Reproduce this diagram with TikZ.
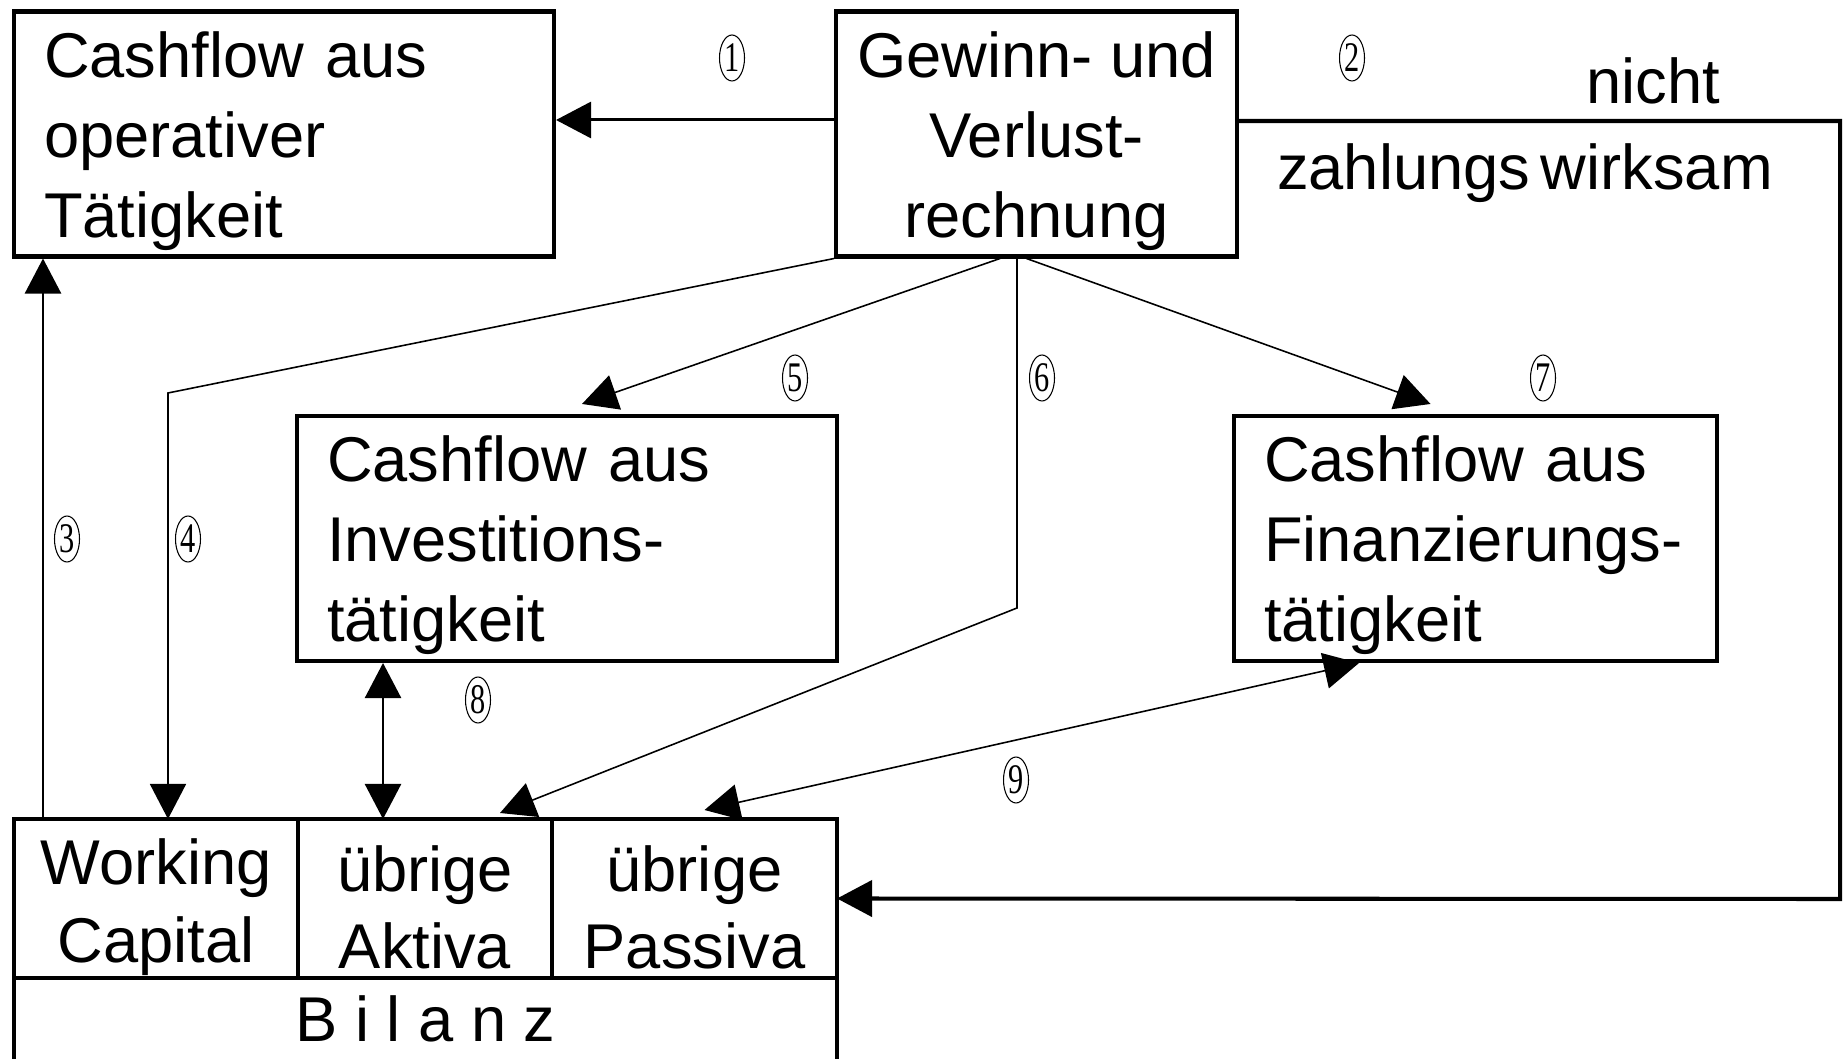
\documentclass[tikz,border=0pt]{standalone}
\usepackage{fontspec}
\setmainfont{Liberation Sans}
\newfontfamily\zifferfont{Liberation Serif}
\usepackage{graphicx}
\usetikzlibrary{arrows.meta, positioning, calc, shapes.geometric}

\newcommand{\kreis}[1]{\scalebox{0.72}[1]{\zifferfont #1}}
\newcommand{\hoch}[1]{\rule{0pt}{#1}}

\begin{document}
\begin{tikzpicture}[
    % Define styles
    box/.style={rectangle, draw=black, line width=2.3pt, inner sep=0pt, inner xsep=0.6cm, minimum height=4.9cm, font=\fontsize{36}{45.5}\selectfont},
    links/.style={box, align=left},
    zelle/.style={box, inner xsep=0pt, outer sep=0pt, minimum height=3.18cm, align=center, font=\fontsize{36}{44}\selectfont},
    nummer/.style={ellipse, draw=black, line width=0.6pt, inner sep=0pt, minimum width=0.5cm, minimum height=0.92cm, font=\fontsize{24}{24}\selectfont},
    schrift/.style={font=\fontsize{36}{45}\selectfont},
    arrow/.style={-{Triangle[length=0.7cm, width=0.72cm]}, line width=1.4pt},
    dual/.style={{Triangle[length=0.7cm, width=0.72cm]}-{Triangle[length=0.7cm, width=0.72cm]}, line width=1.4pt},
    duenn/.style={line width=0.9pt},
    ]
    \useasboundingbox (0,0) rectangle (36.96,21.16);

    % Main boxes
    \node[links, text width=9.6cm, minimum width=10.8cm] (operativ) at (5.68,18.48) {\hoch{34pt}Cashflow aus\\operativer\\Tätigkeit};
    \node[box, align=center, inner xsep=0.1cm, minimum width=8.02cm] (guv) at (20.73,18.48) {\hoch{34pt}Gewinn- und\\Verlust-\\rechnung};
    \node[links, text width=9.6cm, minimum width=10.8cm] (invest) at (11.34,10.39) {\hoch{34pt}Cashflow aus\\Investitions-\\tätigkeit};
    \node[links, text width=8.46cm, minimum width=9.66cm] (finanz) at (29.51,10.39) {\hoch{34pt}Cashflow aus\\Finanzierungs-\\tätigkeit};

    % Bilanz
    \node[zelle, minimum width=5.68cm] (working) at (3.12,3.19) {\hoch{36pt}Working\\Capital};
    \node[zelle, minimum width=5.08cm, right=0pt of working] (aktiva) {\hoch{36pt}übrige\\Aktiva};
    \node[zelle, minimum width=5.70cm, right=0pt of aktiva] (passiva) {\hoch{36pt}übrige\\Passiva};
    \node[zelle, minimum width=16.46cm, minimum height=2.1cm, anchor=north west] (bilanz) at (working.south west) {};
    \node[schrift, anchor=base] (bilanztext) at (8.51,0.34) {B i l a n z};

    % Labels
    \node[schrift] (nicht) at (33.06,19.54) {nicht};
    \node[schrift] (wirksam) at (30.50,17.70) {zahlungs\,wirksam};
    \node[nummer] (n1) at (14.64,20.00) {\kreis{1}};
    \node[nummer] (n2) at (27.04,20.00) {\kreis{2}};
    \node[nummer] (n3) at (1.34,10.38) {\kreis{3}};
    \node[nummer] (n4) at (3.76,10.38) {\kreis{4}};
    \node[nummer] (n5) at (15.90,13.60) {\kreis{5}};
    \node[nummer] (n6) at (20.84,13.60) {\kreis{6}};
    \node[nummer] (n7) at (30.86,13.60) {\kreis{7}};
    \node[nummer] (n8) at (9.56,7.16) {\kreis{8}};
    \node[nummer] (n9) at (20.32,5.56) {\kreis{9}};

    % Helper coordinates
    \coordinate (knick4) at (3.36,13.30);
    \coordinate (knick6) at (20.34,9.00);
    \coordinate (rechts) at (36.80,3.18);

    % Arrows
    \draw[arrow, line width=1.7pt] ($(guv.west)+(0,0.28)$) -- ($(operativ.east)+(0,0.28)$);
    \draw[arrow, line width=2.3pt] ($(guv.east)+(0,0.26)$) -| (rechts) -- (passiva.east);
    \draw[arrow] (working.north -| 0.86,0) -- (operativ.south -| 0.86,0);
    \draw[arrow, duenn] (guv.south west) -- (knick4) -- (knick4 |- working.north);
    \draw[arrow, duenn] ($(guv.south)+(-0.73,0)$) -- ($(invest.north)+(0.3,0.2)$);
    \draw[arrow, duenn] ($(guv.south)+(-0.39,0)$) -- (knick6) -- ($(aktiva.north)+(1.5,0.12)$);
    \draw[arrow, duenn] ($(guv.south)+(-0.2,0)$) -- ($(finanz.north)+(-0.9,0.2)$);
    \draw[dual] (invest.south -| 7.66,0) -- (aktiva.north -| 7.66,0);
    \draw[dual, duenn] ($(finanz.south)+(-2.33,0)$) -- ($(passiva.north)+(0.2,0.18)$);

\end{tikzpicture}
\end{document}
